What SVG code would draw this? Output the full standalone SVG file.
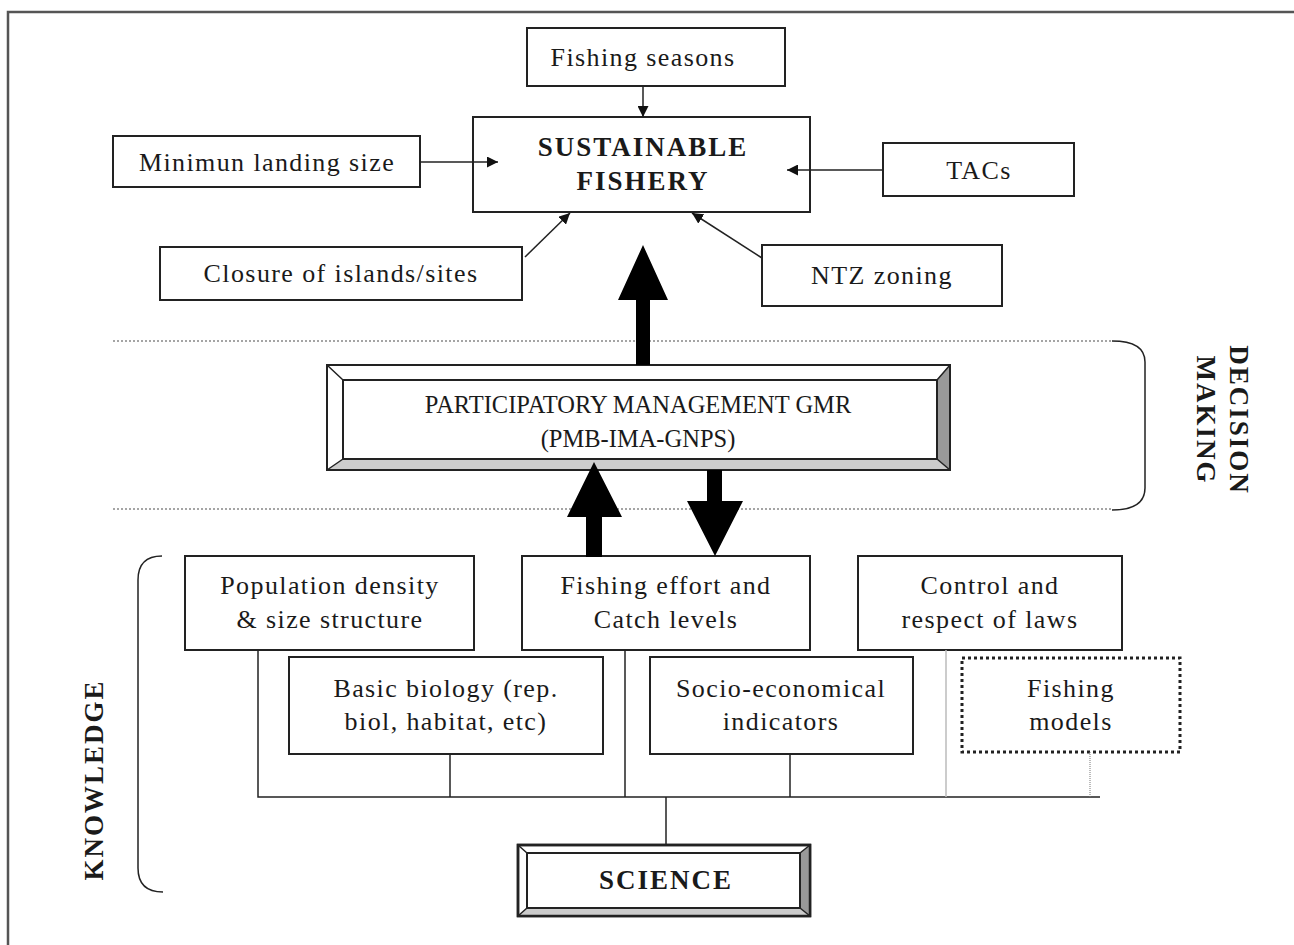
<svg xmlns="http://www.w3.org/2000/svg" width="1294" height="945" viewBox="0 0 1294 945">
<style>
.box{fill:#fff;stroke:#222;stroke-width:2}
.t{font-family:"Liberation Serif","Times New Roman",serif;font-size:26px;letter-spacing:1.4px;fill:#1a1a1a;text-anchor:middle}
.b{font-weight:bold;font-size:27px;letter-spacing:2px}
.p{font-size:24.5px;letter-spacing:0}
.ln{stroke:#222;stroke-width:2;fill:none}
.dot{stroke:#888;stroke-width:1.5;stroke-dasharray:2 2;fill:none}
.thin{stroke:#222;stroke-width:1.5;fill:none}
</style>
<defs>
<marker id="ah" viewBox="0 0 10 10" refX="10" refY="5" markerWidth="11" markerHeight="11" markerUnits="userSpaceOnUse" orient="auto">
<path d="M0,0 L10,5 L0,10 z" fill="#111"/>
</marker>
</defs>
<rect width="1294" height="945" fill="#fff"/>
<path d="M8,945 V12 H1294" fill="none" stroke="#555" stroke-width="2.5"/>

<g id="fishing-seasons"><rect class="box" x="527" y="28" width="258" height="58"/><text class="t" x="643" y="66">Fishing seasons</text></g>
<g id="sustainable"><rect class="box" x="473" y="117" width="337" height="95"/><text class="t b" x="643" y="156">SUSTAINABLE</text><text class="t b" x="643" y="190">FISHERY</text></g>
<g id="minimun"><rect class="box" x="113" y="136" width="307" height="51"/><text class="t" x="267" y="171">Minimun landing size</text></g>
<g id="tacs"><rect class="box" x="883" y="143" width="191" height="53"/><text class="t" x="979" y="179">TACs</text></g>
<g id="closure"><rect class="box" x="160" y="247" width="362" height="53"/><text class="t" x="341" y="282">Closure of islands/sites</text></g>
<g id="ntz"><rect class="box" x="762" y="245" width="240" height="61"/><text class="t" x="882" y="284">NTZ zoning</text></g>

<g id="decision-band">
<path class="dot" d="M113,341 H1112"/>
<path class="dot" d="M113,509 H1112"/>
<path class="thin" d="M1112,341 Q1145,341 1145,362 V488 Q1145,510 1112,510"/>
<text class="t b" transform="translate(1230,420) rotate(90)" x="0" y="0">DECISION</text>
<text class="t b" transform="translate(1197,420) rotate(90)" x="0" y="0">MAKING</text>
</g>

<g id="participatory">
<rect x="327" y="365" width="623" height="105" fill="#fff" stroke="#222" stroke-width="2"/>
<polygon points="937,380 950,365 950,470 937,459" fill="#999"/>
<polygon points="343,459 937,459 950,470 327,470" fill="#ccc"/>
<rect x="343" y="380" width="594" height="79" fill="#fff" stroke="#222" stroke-width="2"/>
<path class="thin" d="M327,365 L343,380 M950,365 L937,380 M327,470 L343,459 M950,470 L937,459"/>
<rect x="327" y="365" width="623" height="105" fill="none" stroke="#222" stroke-width="2"/>
<text class="t p" x="638" y="413">PARTICIPATORY MANAGEMENT GMR</text>
<text class="t p" x="638" y="447">(PMB-IMA-GNPS)</text>
</g>

<g id="knowledge-band">
<path class="thin" d="M162,556 Q138,556 138,580 V868 Q138,892 163,892"/>
<text class="t b" transform="translate(103,780) rotate(-90)" x="0" y="0">KNOWLEDGE</text>
</g>

<g id="population"><rect class="box" x="185" y="556" width="289" height="94"/><text class="t" x="330" y="594">Population density</text><text class="t" x="330" y="628">&amp; size structure</text></g>
<g id="effort"><rect class="box" x="522" y="556" width="288" height="94"/><text class="t" x="666" y="594">Fishing effort and</text><text class="t" x="666" y="628">Catch levels</text></g>
<g id="control"><rect class="box" x="858" y="556" width="264" height="94"/><text class="t" x="990" y="594">Control and</text><text class="t" x="990" y="628">respect of laws</text></g>
<g id="basic"><rect class="box" x="289" y="657" width="314" height="97"/><text class="t" x="446" y="697">Basic biology (rep.</text><text class="t" x="446" y="730">biol, habitat, etc)</text></g>
<g id="socio"><rect class="box" x="650" y="657" width="263" height="97"/><text class="t" x="781" y="697">Socio-economical</text><text class="t" x="781" y="730">indicators</text></g>
<g id="models"><rect x="962" y="658" width="218" height="94" fill="#fff" stroke="#222" stroke-width="3" stroke-dasharray="3 3"/><text class="t" x="1071" y="697">Fishing</text><text class="t" x="1071" y="730">models</text></g>

<g id="science">
<rect x="518" y="845" width="292" height="71" fill="#fff" stroke="#222" stroke-width="2.5"/>
<polygon points="800,853 810,845 810,916 800,908" fill="#999"/>
<polygon points="527,908 800,908 810,916 518,916" fill="#ccc"/>
<rect x="527" y="853" width="273" height="55" fill="#fff" stroke="#222" stroke-width="2"/>
<path class="thin" d="M518,845 L527,853 M810,845 L800,853 M518,916 L527,908 M810,916 L800,908"/>
<rect x="518" y="845" width="292" height="71" fill="none" stroke="#222" stroke-width="2.5"/>
<text class="t b" x="666" y="889">SCIENCE</text>
</g>

<g id="connectors">
<line class="thin" x1="643" y1="86" x2="643" y2="117" marker-end="url(#ah)"/>
<line class="thin" x1="420" y1="162" x2="498" y2="162" marker-end="url(#ah)"/>
<line class="thin" x1="883" y1="170" x2="787" y2="170" marker-end="url(#ah)"/>
<line class="thin" x1="525" y1="257" x2="570" y2="213" marker-end="url(#ah)"/>
<line class="thin" x1="762" y1="258" x2="692" y2="213" marker-end="url(#ah)"/>
<g id="big-arrows" fill="#000">
<polygon points="636,365 636,300 618,300 643,245 668,300 650,300 650,365"/>
<polygon points="586,557 586,517 567,517 594,462 622,517 602,517 602,557"/>
<polygon points="707,470 707,501 687,501 715,556 743,501 722,501 722,470"/>
</g>
<path class="thin" d="M258,650 V797 H1100"/>
<path class="thin" d="M450,754 V797"/>
<path class="thin" d="M625,650 V797"/>
<path class="thin" d="M790,754 V797"/>
<path d="M946,650 V797" stroke="#bbb" stroke-width="1.5"/>
<path d="M1090,752 V797" stroke="#777" stroke-width="1" stroke-dasharray="1 1"/>
<path class="thin" d="M666,797 V845"/>
</g>
</svg>
